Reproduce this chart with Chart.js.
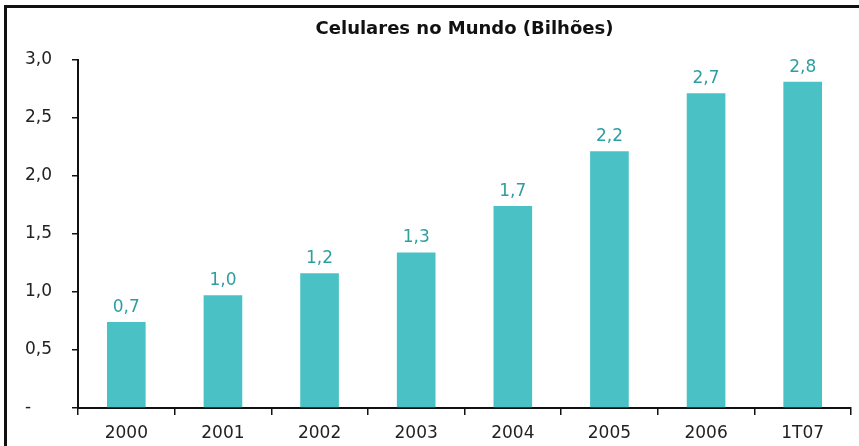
<!DOCTYPE html>
<html>
<head>
<meta charset="utf-8">
<script src="https://cdn.jsdelivr.net/npm/chart.js@4"></script>
<style>
  body { margin: 0; background: #fff; }
  #wrap { position: relative; width: 859px; height: 446px; overflow: hidden; }
  #grafico { position: absolute; left: 0; top: 0; }
  #moldura {
    position: absolute; left: 4px; top: 5px; right: -4px; bottom: -4px;
    border-left: 3px solid #111; border-top: 3px solid #111; pointer-events: none;
  }
</style>
</head>
<body>
<div id="wrap">
  <canvas id="grafico" width="859" height="446"></canvas>
  <div id="moldura"></div>
</div>
<script>
const categorias = ['2000', '2001', '2002', '2003', '2004', '2005', '2006', '1T07']
const celulares = [0.74, 0.97, 1.16, 1.34, 1.74, 2.21, 2.71, 2.81]
const ticksY = [0, 0.5, 1.0, 1.5, 2.0, 2.5, 3.0]

const corBarra = '#4ac2c5'
const corRotulo = '#2f9ea1'
const fonte = '"DejaVu Sans", Verdana, sans-serif'

const formatarValor = (v) => v === 0 ? '-' : v.toFixed(1).replace('.', ',')

// rótulos acima das barras
const rotulosBarras = {
  id: 'rotulosBarras',
  afterDatasetsDraw (chart) {
    const { ctx } = chart
    const meta = chart.getDatasetMeta(0)
    ctx.save()
    ctx.font = '17px ' + fonte
    ctx.fillStyle = corRotulo
    ctx.textAlign = 'center'
    ctx.textBaseline = 'alphabetic'
    meta.data.forEach((barra, i) => {
      ctx.fillText(formatarValor(celulares[i]), barra.x, barra.y - 10)
    })
    ctx.restore()
  }
}

new Chart(document.getElementById('grafico'), {
  type: 'bar',
  data: {
    labels: categorias,
    datasets: [{
      data: celulares,
      backgroundColor: corBarra,
      borderWidth: 0,
      categoryPercentage: 1,
      barPercentage: 0.4
    }]
  },
  options: {
    responsive: false,
    animation: false,
    layout: { padding: { left: 25, right: 8, top: 0, bottom: 0 } },
    plugins: {
      legend: { display: false },
      tooltip: { enabled: false },
      title: {
        display: true,
        fullSize: false,
        text: 'Celulares no Mundo (Bilhões)',
        color: '#111',
        font: { family: fonte, size: 18, weight: 'bold' },
        padding: { top: 19, bottom: 19 }
      }
    },
    scales: {
      x: {
        offset: true,
        grid: { display: true, offset: true, drawOnChartArea: false, drawTicks: true, tickLength: 7, color: '#111', lineWidth: 1.5 },
        border: { display: true, color: '#111', width: 2 },
        ticks: { color: '#222', font: { family: fonte, size: 17 }, padding: 8, maxRotation: 0 },
        afterFit: (scale) => { scale.height = 38 }
      },
      y: {
        min: 0,
        max: 3,
        afterBuildTicks: (scale) => { scale.ticks = ticksY.map(v => ({ value: v })) },
        grid: { display: true, drawOnChartArea: false, drawTicks: true, tickLength: 6, color: '#111', lineWidth: 1.5 },
        border: { display: true, color: '#111', width: 2 },
        ticks: {
          color: '#222',
          font: { family: fonte, size: 17 },
          crossAlign: 'far',
          callback: (v) => formatarValor(v)
        },
        afterFit: (scale) => { scale.width = 53 }
      }
    }
  },
  plugins: [rotulosBarras]
})
</script>
</body>
</html>
